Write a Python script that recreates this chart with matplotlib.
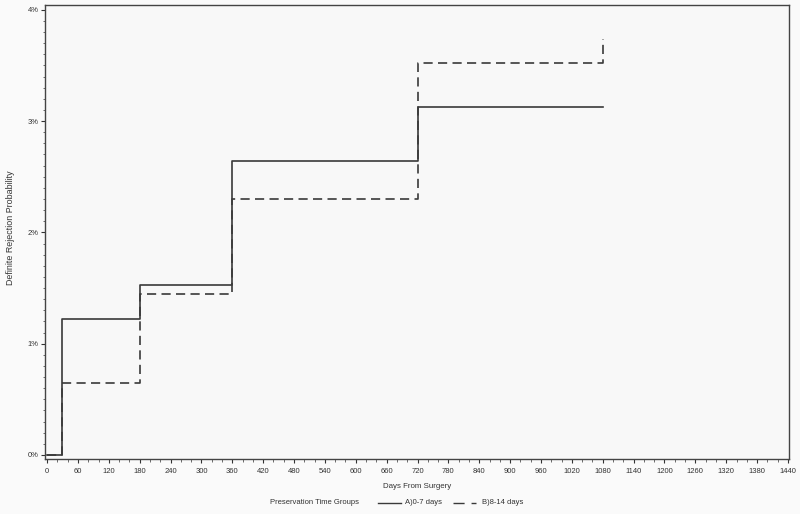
import matplotlib
matplotlib.use("Agg")
import matplotlib.pyplot as plt
from matplotlib.ticker import MultipleLocator, FuncFormatter
from matplotlib.lines import Line2D

# Data (days, cumulative probability in %)
days_a = [0, 30, 180, 360, 720, 1080]
prob_a = [0.0, 1.22, 1.53, 2.64, 3.13, 3.13]
days_b = [0, 30, 180, 360, 720, 1080]
prob_b = [0.0, 0.65, 1.45, 2.30, 3.52, 3.74]
group_labels = ["A)0-7 days", "B)8-14 days"]
legend_title = "Preservation Time Groups"

plt.rcParams['font.family'] = ['Liberation Sans', 'DejaVu Sans']
W, H = 800, 514
fig = plt.figure(figsize=(W / 100, H / 100), dpi=100)
fig.patch.set_facecolor('#fafafa')
ax = fig.add_axes([45 / W, 1 - 459 / H, (788.5 - 45) / W, (459 - 5.3) / H])
ax.set_facecolor('#f8f8f8')

col = '#3a3a3a'
dash = (5.5, 3.2)
ax.step(days_a, prob_a, where='post', color=col, lw=1.2)
ax.step(days_b, prob_b, where='post', color=col, lw=1.2, dashes=dash)

ax.set_xlim(-4, 1441)
ax.set_ylim(-0.036, 4.04)
ax.xaxis.set_major_locator(MultipleLocator(60))
ax.xaxis.set_minor_locator(MultipleLocator(20))
ax.yaxis.set_major_locator(MultipleLocator(1))
ax.yaxis.set_minor_locator(MultipleLocator(0.1))
ax.yaxis.set_major_formatter(FuncFormatter(lambda v, p: f"{int(round(v))}%"))
ax.tick_params(which='major', length=3, width=0.8, labelsize=5.5, colors='#333333')
ax.tick_params(axis='x', which='major', pad=3.5)
ax.tick_params(axis='y', which='major', pad=1.5)
ax.tick_params(which='minor', length=1.8, width=0.6, colors='#555555')
for s in ax.spines.values():
    s.set_color('#444444')
    s.set_linewidth(1.0)

tc = '#333333'
fig.text(417 / W, 1 - 487 / H, "Days From Surgery", fontsize=5.7, color=tc,
         ha='center', va='center')
fig.text(11 / W, 1 - 228 / H, "Definite Rejection Probability", rotation=90, fontsize=6.4,
         color=tc, ha='center', va='center')

# Legend row (manual placement)
ly = 1 - 503 / H
fig.text(359 / W, ly, legend_title, fontsize=5.5, color=tc, ha='right', va='center')
fig.add_artist(Line2D([378 / W, 401 / W], [ly, ly], color=col, lw=1.0))
fig.text(405 / W, ly, group_labels[0], fontsize=5.5, color=tc, ha='left', va='center')
fig.add_artist(Line2D([453 / W, 476 / W], [ly, ly], color=col, lw=1.0, dashes=(8, 5)))
fig.text(482 / W, ly, group_labels[1], fontsize=5.5, color=tc, ha='left', va='center')

fig.savefig("out.png", dpi=100, facecolor=fig.get_facecolor())
